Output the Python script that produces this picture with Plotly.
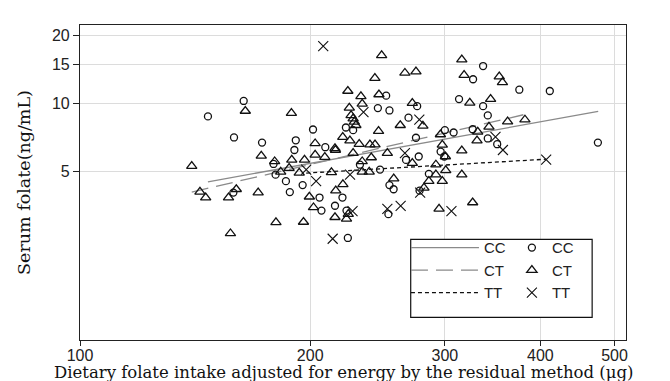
import plotly.graph_objects as go

# ---- data ----
cc_x = [163.7, 147, 159, 173, 191.5, 190.7, 201.7, 209.3, 251.4, 245.2, 253.9, 276, 268.9,
        222.7, 227.6, 275, 300, 308, 336.6, 326.6, 375.4, 411.5, 313.1, 336.6, 341.4,
        326.2, 341.4, 351.2, 475.6, 195.5, 246.8, 266.9, 277.3, 296.2, 299.5, 253.9, 257.1,
        285.9, 278, 205.7, 206.9, 220.4, 215.5, 223.1, 253.1, 224, 179.1, 180.2, 185.9,
        188.1, 158.7, 232.3]
cc_y = [10.3, 8.8, 7.1, 6.74, 6.9, 6.25, 7.7, 6.43, 10.87, 9.58, 9.35, 9.77, 8.69,
        7.86, 7.65, 7.08, 7.65, 7.47, 14.7, 12.85, 11.55, 11.4, 10.5, 9.77, 8.89,
        7.72, 7.03, 6.63, 6.74, 4.37, 5.12, 5.65, 5.85, 6.15, 5.85, 4.37, 4.19,
        4.9, 4.13, 3.85, 3.37, 3.85, 3.54, 3.37, 3.25, 2.55, 5.42, 4.86, 4.55,
        4.07, 4.05, 5.38]

ct_x = [164.5, 189, 172.6, 140, 203, 209, 248, 266, 275, 243, 224, 233, 246, 233.9, 225,
        226.2, 272, 280.8, 262.3, 227.6, 228.4, 229.5, 245.7, 220.6, 225.4, 231.8, 239.4,
        243.1, 215.5, 296, 315.7, 317.9, 353.4, 356.8, 323.4, 344.3, 362.4, 381.8, 331.2,
        342.6, 330.5, 315.7, 196.6, 203, 215.8, 213.2, 227.6, 233.9, 240.4, 233.9, 238.9,
        252.3, 272, 292, 300.8, 257.2, 292, 297.7, 285.9, 281.7, 199.5, 202, 216, 220.7,
        215.5, 223.1, 224.3, 294.8, 196, 315.7, 326.2, 179.7, 183, 187.7, 189.2, 193.5,
        143.5, 146, 156.4, 160.1, 171, 180.4, 157.3, 297.7, 300.5]
ct_y = [9.3, 9.1, 5.89, 5.3, 6.68, 5.81, 16.4, 13.7, 13.9, 13.0, 11.4, 10.8, 11.0, 10.0, 9.6,
        8.89, 10.07, 7.99, 8.04, 8.6, 8.32, 8.04, 7.57, 7.13, 6.88, 6.64, 6.6,
        6.6, 6.36, 7.32, 15.7, 13.4, 13.2, 12.44, 10.1, 10.5, 8.34, 8.51, 7.52,
        7.91, 6.88, 6.21, 5.65, 5.95, 6.25, 4.98, 6.05, 5.56, 5.79, 5.0, 5.0,
        6.05, 5.47, 5.38, 5.08, 4.67, 4.86, 4.55, 4.55, 4.25, 3.88, 3.48, 4.13, 4.4,
        3.15, 3.1, 3.25, 3.43, 3.0, 4.86, 3.66, 5.56, 5.0, 5.2, 5.65, 4.95,
        4.08, 3.85, 3.85, 4.19, 4.05, 2.99, 2.67, 6.58, 5.85]

tt_x = [208, 234.8, 277.8, 349.4, 357.3, 407, 197.6, 203.6, 225.5, 266, 278.5, 227.2,
        252.3, 262.6, 306, 214]
tt_y = [18.0, 9.2, 8.51, 7.15, 6.25, 5.66, 5.12, 4.55, 4.86, 6.05, 4.05, 3.35,
        3.43, 3.54, 3.35, 2.53]

# fitted lines (end points)
fit_cc_x = [147, 476]
fit_cc_y = [4.52, 9.26]
fit_ct_x = [140, 380]
fit_ct_y = [4.07, 8.95]
fit_tt_x = [197.6, 407]
fit_tt_y = [4.94, 5.69]

x_ticks = [100, 200, 300, 400, 500]
y_ticks = [5, 10, 15, 20]
groups = ["CC", "CT", "TT"]
x_title = "Dietary folate intake adjusted for energy by the residual method (µg)"
y_title = "Serum folate(ng/mL)"

fig = go.Figure()

line_styles = [
    dict(color="#8a8a8a", width=1.3, dash="solid"),
    dict(color="#8a8a8a", width=1.3, dash="17px,8px"),
    dict(color="#111111", width=1.3, dash="4px,3px"),
]
fits = [(fit_cc_x, fit_cc_y), (fit_ct_x, fit_ct_y), (fit_tt_x, fit_tt_y)]
for g, (fx, fy), ls in zip(groups, fits, line_styles):
    fig.add_trace(go.Scatter(x=fx, y=fy, mode="lines", line=ls, name=g,
                             legend="legend", hoverinfo="skip"))

marker_styles = [
    dict(symbol="circle-open", size=7, color="#111111", line=dict(width=1.3)),
    dict(symbol="triangle-up-open", size=9, color="#111111", line=dict(width=1.3)),
    dict(symbol="x-thin-open", size=10, color="#111111", line=dict(width=1.1)),
]
pts = [(cc_x, cc_y), (ct_x, ct_y), (tt_x, tt_y)]
for g, (px, py), ms in zip(groups, pts, marker_styles):
    fig.add_trace(go.Scatter(x=px, y=py, mode="markers", marker=ms, name=g,
                             legend="legend2"))

axis_font = dict(family="Liberation Sans, Arial, sans-serif", size=16, color="#222222")
legend_font = dict(family="Liberation Sans, Arial, sans-serif", size=15, color="#222222")

fig.update_layout(
    width=670, height=381,
    margin=dict(l=72, r=52, t=17, b=49),
    paper_bgcolor="white", plot_bgcolor="white",
    showlegend=True,
    xaxis=dict(type="log", range=[2, 2.714], tickvals=x_ticks,
               ticktext=[str(v) for v in x_ticks],
               showgrid=True, gridcolor="#dcdcdc", gridwidth=1,
               showline=True, linecolor="#222222", linewidth=1.2, mirror=True,
               ticks="outside", ticklen=5, tickcolor="#222222",
               ticklabelstandoff=-4,
               tickfont=axis_font, zeroline=False),
    yaxis=dict(type="log", range=[-0.045, 1.349], tickvals=y_ticks,
               ticktext=[str(v) for v in y_ticks],
               showgrid=True, gridcolor="#dcdcdc", gridwidth=1,
               showline=True, linecolor="#222222", linewidth=1.2, mirror=True,
               ticks="outside", ticklen=6, tickcolor="#222222",
               tickfont=axis_font, zeroline=False,
               title=dict(text=y_title,
                          font=dict(family="DejaVu Serif, serif", size=17.5, color="#111111"),
                          standoff=16)),
    legend=dict(x=0.597, y=0.345, xanchor="left", yanchor="top",
                bgcolor="rgba(0,0,0,0)", borderwidth=0,
                font=legend_font, itemwidth=68),
    legend2=dict(x=0.791, y=0.345, xanchor="left", yanchor="top",
                 bgcolor="rgba(0,0,0,0)", borderwidth=0,
                 font=legend_font, itemwidth=30),
    shapes=[dict(type="rect", xref="paper", yref="paper", x0=0.6057, x1=0.938,
                 y0=0.072, y1=0.3197, line=dict(color="#111111", width=1.2),
                 fillcolor="white", layer="above")],
    annotations=[dict(text=x_title, xref="paper", yref="paper", x=0.482, y=-0.103,
                      xanchor="center", yanchor="middle", showarrow=False,
                      font=dict(family="DejaVu Serif, serif", size=16.5, color="#111111"))],
)

fig.write_html("out.html")
